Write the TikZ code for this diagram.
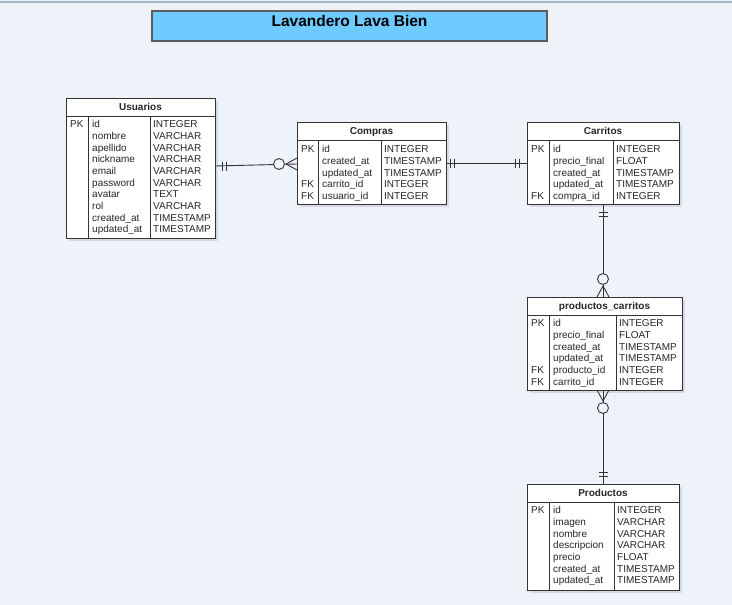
\documentclass[tikz,border=0pt]{standalone}
\usepackage{fontspec}
\setmainfont{Liberation Sans}
\usetikzlibrary{calc}
\definecolor{bgc}{HTML}{EEF3FA}
\definecolor{topc}{HTML}{A4B6CC}
\definecolor{titlec}{HTML}{6DCBFF}
\definecolor{linec}{HTML}{333333}
\definecolor{textc}{HTML}{262626}
\definecolor{shadowc}{HTML}{D6DAE0}
\tikzset{
  ent/.style={draw=linec, fill=white, line width=0.9pt, inner sep=0pt, outer sep=0pt, rectangle},
  entline/.style={draw=linec, line width=0.9pt},
  hdr/.style={font=\bfseries\fontsize{10}{12}\selectfont, inner sep=0pt, anchor=base, text=textc},
  cell/.style={font=\fontsize{10}{12}\selectfont, inner sep=0pt, anchor=base west, text=textc},
  conn/.style={draw=linec, line width=0.9pt},
  zcirc/.style={draw=linec, fill=bgc, line width=0.9pt},
}
\newcommand\erent[7]{%
  \fill[shadowc] ({#2+3},{#3+3}) rectangle ({#4+3},{#5+3});
  \node[ent, minimum width={#4-#2}, minimum height={#5-#3}] (#1) at ({(#2+#4)/2},{(#3+#5)/2}) {};
  \draw[entline] (#2,#6) -- (#4,#6);
  \node[hdr] (#1-h) at ({(#2+#4)/2},{(#3+#6)/2+3.6}) {#7};
}
\newcommand\errows[8]{%
  \draw[entline] (#3,#5) -- (#3,#6);
  \draw[entline] (#4,#5) -- (#4,#6);
  \foreach[count=\i] \k/\n/\t in {#8} {
    \node[cell] (#1-k\i) at ({#2+4},{#7+(\i-1)*11.7+3.6}) {\k};
    \node[cell] (#1-n\i) at ({#3+4},{#7+(\i-1)*11.7+3.6}) {\n};
    \node[cell] (#1-t\i) at ({#4+3},{#7+(\i-1)*11.7+3.6}) {\t};
  }
}
\begin{document}
\begin{tikzpicture}[x=1pt,y=-1pt]
\fill[bgc] (0,0) rectangle (732,605);
\useasboundingbox (0,0) rectangle (732,605);
\draw[topc, line width=1.5pt] (0,2) -- (732,2);

% title
\node[draw=linec!80, fill=titlec, line width=1.2pt, minimum width=395, minimum height=30, inner sep=0pt] (ttl) at (349.5,26) {};
\node[font=\bfseries\fontsize{15.5}{18}\selectfont, inner sep=0pt, anchor=base, text=black] (ttltext) at ($(ttl.center)+(0,0.5)$) {Lavandero Lava Bien};

% Usuarios
\erent{usu}{66}{98}{215}{238}{116}{Usuarios}
\errows{usu}{66}{88}{150}{116}{238}{124}{PK/id/INTEGER, {}/nombre/VARCHAR, {}/apellido/VARCHAR, {}/nickname/VARCHAR, {}/email/VARCHAR, {}/password/VARCHAR, {}/avatar/TEXT, {}/rol/VARCHAR, {}/created\_at/TIMESTAMP, {}/updated\_at/TIMESTAMP}

% Compras
\erent{com}{297}{122}{446}{204}{140}{Compras}
\errows{com}{297}{318}{381}{140}{204}{149}{PK/id/INTEGER, {}/created\_at/TIMESTAMP, {}/updated\_at/TIMESTAMP, FK/carrito\_id/INTEGER, FK/usuario\_id/INTEGER}

% Carritos
\erent{car}{527}{122}{679}{204}{140}{Carritos}
\errows{car}{527}{549}{613}{140}{204}{149}{PK/id/INTEGER, {}/precio\_final/FLOAT, {}/created\_at/TIMESTAMP, {}/updated\_at/TIMESTAMP, FK/compra\_id/INTEGER}

% productos_carritos
\erent{pc}{527}{297}{682}{390}{315}{productos\_carritos}
\errows{pc}{527}{549}{616}{315}{390}{323}{PK/id/INTEGER, {}/precio\_final/FLOAT, {}/created\_at/TIMESTAMP, {}/updated\_at/TIMESTAMP, FK/producto\_id/INTEGER, FK/carrito\_id/INTEGER}

% Productos
\erent{pro}{527}{484}{679}{590}{502}{Productos}
\errows{pro}{527}{549}{614}{502}{590}{510}{PK/id/INTEGER, {}/imagen/VARCHAR, {}/nombre/VARCHAR, {}/descripcion/VARCHAR, {}/precio/FLOAT, {}/created\_at/TIMESTAMP, {}/updated\_at/TIMESTAMP}

% Usuarios -- Compras (one to zero-or-many)
\coordinate (a1) at ($(usu.east)+(0,-2)$);
\coordinate (b1) at ($(com.west)+(0,1)$);
\draw[conn] (a1) -- (b1);
\draw[conn] ($(a1)+(7,-4.5)$) -- ($(a1)+(7,4.5)$);
\draw[conn] ($(a1)+(11,-4.5)$) -- ($(a1)+(11,4.5)$);
\draw[conn] ($(b1)+(-11,0)$) -- ($(b1)+(0,-6)$);
\draw[conn] ($(b1)+(-11,0)$) -- ($(b1)+(0,6)$);
\draw[zcirc] ($(b1)+(-18,0)$) circle (5.5);

% Compras -- Carritos (one to one)
\coordinate (a2) at (com.east);
\coordinate (b2) at (car.west);
\draw[conn] (a2) -- (b2);
\draw[conn] ($(a2)+(4,-4.5)$) -- ($(a2)+(4,4.5)$);
\draw[conn] ($(a2)+(8,-4.5)$) -- ($(a2)+(8,4.5)$);
\draw[conn] ($(b2)+(-8,-4.5)$) -- ($(b2)+(-8,4.5)$);
\draw[conn] ($(b2)+(-12,-4.5)$) -- ($(b2)+(-12,4.5)$);

% Carritos -- productos_carritos
\coordinate (a3) at (car.south);
\coordinate (b3) at (pc.north -| car.south);
\draw[conn] (a3) -- (b3);
\draw[conn] ($(a3)+(-4.5,8)$) -- ($(a3)+(4.5,8)$);
\draw[conn] ($(a3)+(-4.5,12)$) -- ($(a3)+(4.5,12)$);
\draw[conn] ($(b3)+(0,-11)$) -- ($(b3)+(-6,0)$);
\draw[conn] ($(b3)+(0,-11)$) -- ($(b3)+(6,0)$);
\draw[zcirc] ($(b3)+(0,-18)$) circle (5.5);

% productos_carritos -- Productos
\coordinate (a4) at (pc.south -| pro.north);
\coordinate (b4) at (pro.north);
\draw[conn] (a4) -- (b4);
\draw[conn] ($(a4)+(0,11)$) -- ($(a4)+(-6,0)$);
\draw[conn] ($(a4)+(0,11)$) -- ($(a4)+(6,0)$);
\draw[zcirc] ($(a4)+(0,18)$) circle (5.5);
\draw[conn] ($(b4)+(-4.5,-8)$) -- ($(b4)+(4.5,-8)$);
\draw[conn] ($(b4)+(-4.5,-12)$) -- ($(b4)+(4.5,-12)$);
\end{tikzpicture}
\end{document}
